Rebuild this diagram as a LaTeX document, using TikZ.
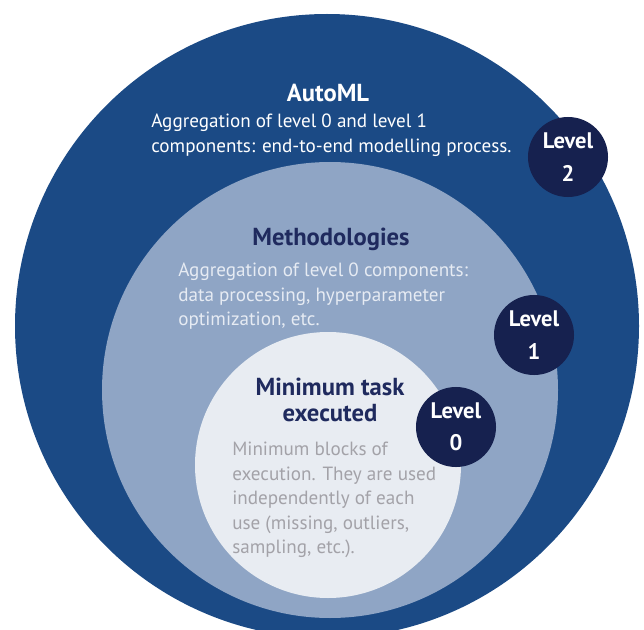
\documentclass[tikz,border=0pt]{standalone}
\usepackage{fontspec}
\setmainfont{PT Sans}
\usetikzlibrary{positioning}
\definecolor{automlblue}{HTML}{1B4A85}
\definecolor{methblue}{HTML}{8FA5C5}
\definecolor{taskgrey}{HTML}{E8ECF2}
\definecolor{levelnavy}{HTML}{16214F}
\definecolor{titlenavy}{HTML}{1F2A5E}
\definecolor{methtext}{HTML}{E6EBF3}
\definecolor{bodygrey}{HTML}{A3A2A8}
\tikzset{
  title/.style={font=\fontsize{17.5}{18}\selectfont\bfseries,align=center,inner sep=0pt},
  body/.style={font=\fontsize{13.6}{17.4}\selectfont,align=left,anchor=north west,inner sep=0pt},
  level/.style={circle,fill=levelnavy,text=white,minimum size=2cm,inner sep=0pt,align=center,
    font=\fontsize{16}{23}\selectfont\bfseries}
}

\begin{document}
\begin{tikzpicture}[x=0.025cm,y=-0.025cm]
    \useasboundingbox (0,0) rectangle (644,630);
    \clip (0,0) rectangle (644,630);
    % nested levels
    \fill[automlblue] (327,326) circle[radius=312];
    \fill[methblue] (330,390) circle[radius=228];
    \fill[taskgrey] (328,465) circle[radius=133];
    \node[title,text=white] (automl) at (328,93) {AutoML};
    \node[body,text=white] (automltext) at (151,114) {Aggregation of level 0 and level 1\\components: end-to-end modelling process.};
    \node[title,text=titlenavy] (meth) at (331,239) {Methodologies};
    \node[body,text=methtext] (methtext) at (178,263) {Aggregation of level 0 components:\\data processing, hyperparameter\\optimization, etc.};
    \node[title,text=titlenavy] (task) at (330,400) {Minimum task\\executed};
    \node[body,text=bodygrey] (tasktext) at (232,442) {Minimum blocks of\\execution. They are used\\independently of each\\use (missing, outliers,\\sampling, etc.).};
    \node[level] (lvltwo) at (568,157) {Level\\2};
    \node[level] (lvlone) at (534,335) {Level\\1};
    \node[level] (lvlzero) at (456,427) {Level\\0};
\end{tikzpicture}
\end{document}
